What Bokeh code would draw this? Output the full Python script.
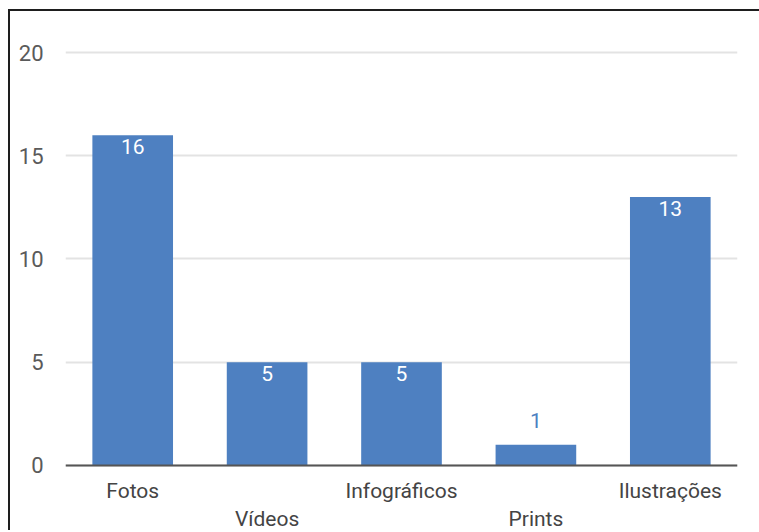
from bokeh.plotting import figure
from bokeh.models import ColumnDataSource, Range1d, FixedTicker, Span
from bokeh.core.properties import value
from bokeh.embed import file_html
from bokeh.resources import INLINE

categories = ["Fotos", "Vídeos", "Infográficos", "Prints", "Ilustrações"]
counts = [16, 5, 5, 1, 13]
label_row = [0, 1, 0, 1, 0]
y_ticks = [0, 5, 10, 15, 20]

BLUE = "#4e80c1"
FONT = "Roboto"

p = figure(x_range=categories, y_range=Range1d(-3.25, 20.1), width=755, height=521,
           output_backend="svg", toolbar_location=None,
           min_border_left=55, min_border_right=28, min_border_top=39, min_border_bottom=0)
p.styles = {"margin-left": "10px", "margin-top": "11px",
            "box-shadow": "-2px -2px 0 0 #1e1e1e"}
p.outline_line_color = None
p.background_fill_color = "white"
p.border_fill_color = "white"

src = ColumnDataSource(dict(cat=categories, val=counts))
p.vbar(x="cat", top="val", width=0.6, source=src, fill_color=BLUE, line_color=None)

inside = [i for i, v in enumerate(counts) if v >= 3]
outside = [i for i, v in enumerate(counts) if v < 3]
p.text(x=[categories[i] for i in inside], y=[counts[i] for i in inside],
       text=[str(counts[i]) for i in inside], text_color="white",
       text_align="center", text_baseline="top", y_offset=4,
       text_font=value(FONT), text_font_size="21px")
p.text(x=[categories[i] for i in outside], y=[counts[i] for i in outside],
       text=[str(counts[i]) for i in outside], text_color=BLUE,
       text_align="center", text_baseline="bottom", y_offset=-17,
       text_font=value(FONT), text_font_size="21px")

p.xaxis.visible = False
p.add_layout(Span(location=0, dimension="width", line_color="#555555", line_width=2))

# staggered category labels (inside the frame, below the baseline)
p.text(x=categories, y=[0] * len(categories), text=categories,
       y_offset=[14 + 28 * r for r in label_row],
       text_align="center", text_baseline="top", text_color="#444444",
       text_font=value(FONT), text_font_size="21px")

p.yaxis.ticker = FixedTicker(ticks=y_ticks)
p.yaxis.axis_line_color = None
p.yaxis.major_tick_line_color = None
p.yaxis.minor_tick_line_color = None
p.yaxis.major_label_text_font = FONT
p.yaxis.major_label_text_font_size = "22px"
p.yaxis.major_label_text_color = "#5a5a5a"
p.yaxis.major_label_standoff = 16

p.xgrid.grid_line_color = None
p.ygrid.grid_line_color = "#e3e3e3"
p.ygrid.grid_line_width = 2

open("out.html", "w").write(file_html(p, INLINE))
